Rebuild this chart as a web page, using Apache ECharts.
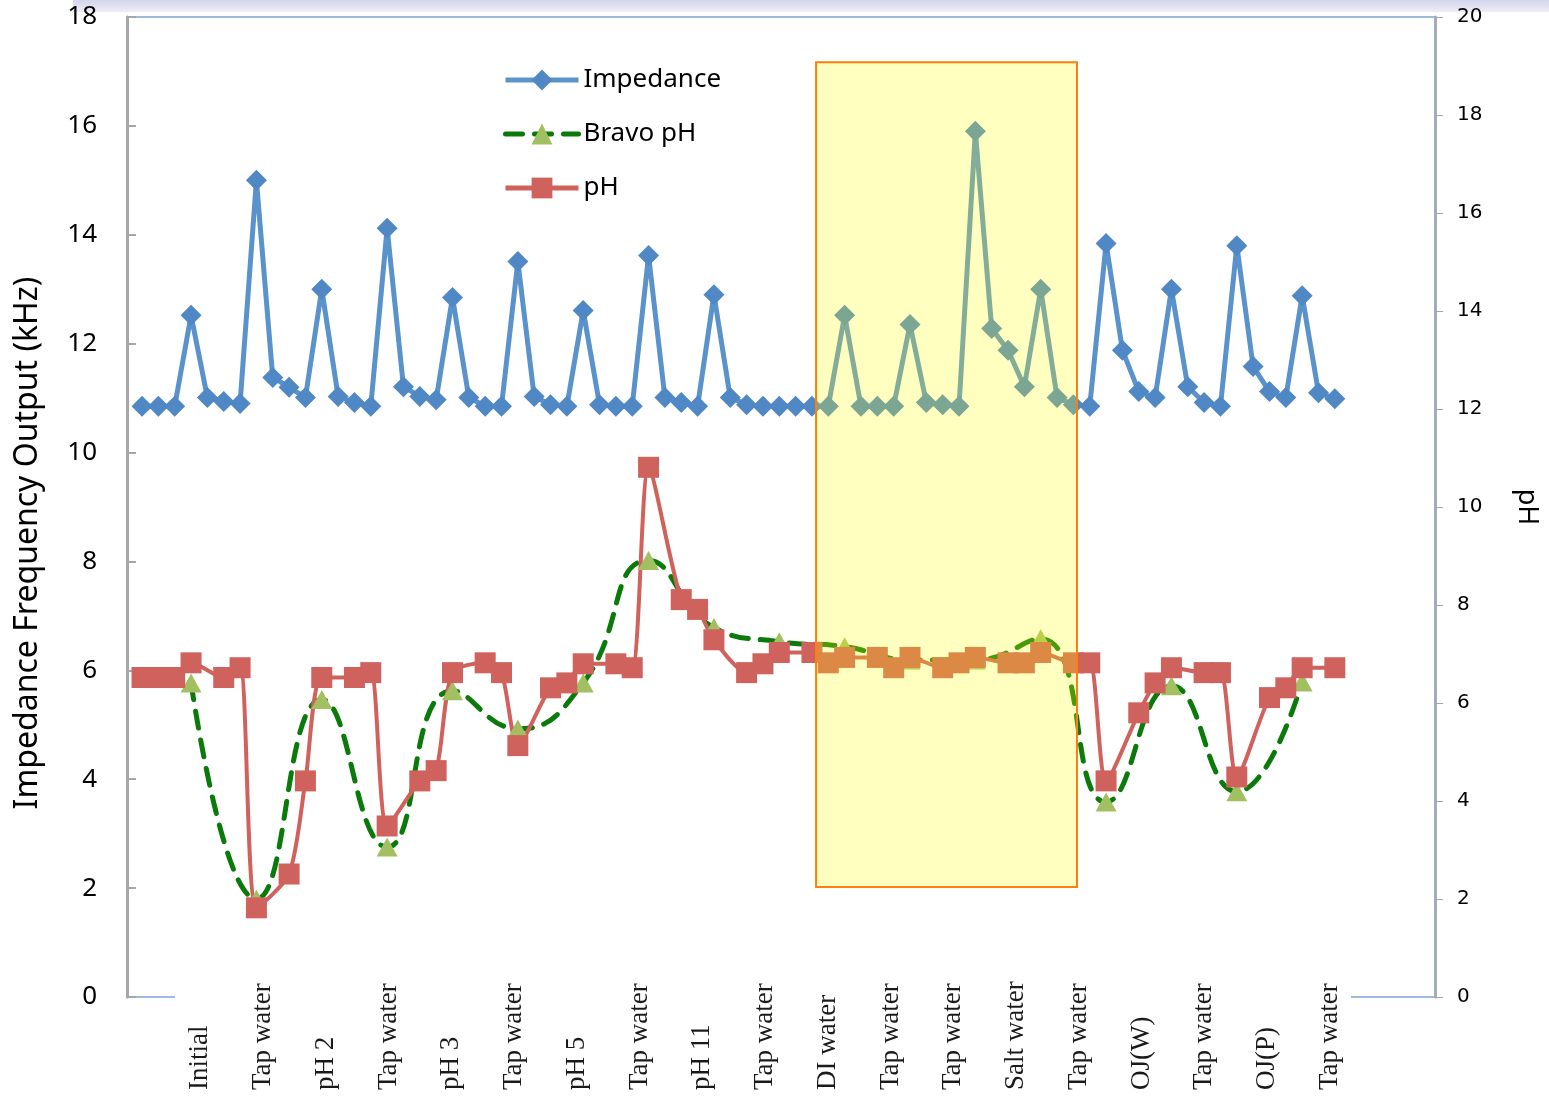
<!DOCTYPE html>
<html>
<head>
<meta charset="utf-8">
<script src="https://cdn.jsdelivr.net/npm/echarts@6/dist/echarts.min.js"></script>
<style>
  html, body { margin: 0; padding: 0; background: #fff; }
  #main { width: 1549px; height: 1099px; }
</style>
</head>
<body>
<div id="main"></div>
<script>
// sample labels shown under the axis
const stepLabels = ['Initial', 'Tap water', 'pH 2', 'Tap water', 'pH 3', 'Tap water', 'pH 5', 'Tap water',
  'pH 11', 'Tap water', 'DI water', 'Tap water', 'Tap water', 'Salt water', 'Tap water', 'OJ(W)',
  'Tap water', 'OJ(P)', 'Tap water'];

// impedance frequency output (kHz), one value per sample
const impedance = [
  10.85, 10.85, 10.85, 12.52, 11.01, 10.94, 10.90, 15.00, 11.38, 11.20,
  11.01, 13.00, 11.03, 10.92, 10.85, 14.12, 11.21, 11.03, 10.97, 12.85,
  11.01, 10.85, 10.85, 13.51, 11.03, 10.88, 10.85, 12.61, 10.88, 10.85,
  10.85, 13.62, 11.01, 10.92, 10.85, 12.90, 11.01, 10.88, 10.85, 10.85,
  10.85, 10.85, 10.85, 12.52, 10.85, 10.85, 10.85, 12.35, 10.92, 10.88,
  10.85, 15.90, 12.28, 11.88, 11.21, 13.00, 11.01, 10.88, 10.85, 13.84,
  11.88, 11.12, 11.01, 13.00, 11.21, 10.92, 10.85, 13.80, 11.58, 11.12,
  11.01, 12.88, 11.10, 10.99
];

// pH meter reading per sample (null = no reading)
const ph = [
  6.52, 6.52, 6.52, 6.82, null, 6.52, 6.72, 1.82, null, 2.51,
  4.41, 6.52, null, 6.52, 6.62, 3.49, null, 4.41, 4.62, 6.62,
  null, 6.82, 6.62, 5.13, null, 6.31, 6.41, 6.80, null, 6.80,
  6.72, 10.81, null, 8.11, 7.91, 7.29, null, 6.62, 6.80, 7.03,
  null, 7.03, 6.82, 6.93, null, 6.93, 6.72, 6.93, null, 6.72,
  6.82, 6.93, null, 6.82, 6.82, 7.03, null, 6.82, 6.82, 4.41,
  null, 5.80, 6.41, 6.72, null, 6.62, 6.62, 4.49, null, 6.11,
  6.31, 6.72, null, 6.72
];

// Bravo pH capsule, read on every 4th sample starting at sample 3
const bravoStart = 3;
const bravoStep = 4;
const bravoPh = [6.41, 2.0, 6.07, 3.06, 6.25, 5.47, 6.41, 8.91, 7.54, 7.25,
  7.15, 6.88, 6.88, 7.31, 3.98, 6.35, 4.19, 6.43];

// highlighted sample range (x) and level range (left axis)
const highlightX = [41.25, 57.22];
const highlightY = [2.02, 17.17];

const toPairs = arr => arr.map((v, i) => [i, v]).filter(p => p[1] !== null);
const bravoPairs = bravoPh.map((v, k) => [bravoStart + k * bravoStep, v]);

const chart = echarts.init(document.getElementById('main'));

chart.setOption({
  animation: false,
  backgroundColor: '#fff',
  textStyle: { fontFamily: 'Noto Sans' },
  graphic: [
    {
      type: 'rect', z: 0,
      shape: { x: 73, y: 0, width: 1476, height: 12 },
      style: {
        fill: new echarts.graphic.LinearGradient(0, 0, 0, 1, [
          { offset: 0, color: '#d4d4ec' }, { offset: 1, color: '#eeeef8' }
        ])
      }
    },
    {
      type: 'rect', z: 1,
      shape: { x: 175, y: 975, width: 1176, height: 124 },
      style: { fill: '#fff' }
    },
    {
      type: 'text', z: 5,
      x: 28, y: 543, rotation: Math.PI / 2,
      style: {
        text: 'Impedance Frequency Output (kHz)',
        fontFamily: 'Noto Sans', fontSize: 32, fill: '#000',
        align: 'center', verticalAlign: 'middle'
      }
    }
  ],
  legend: {
    orient: 'vertical',
    left: 498,
    top: 62,
    itemWidth: 73,
    itemHeight: 26,
    itemGap: 28,
    lineStyle: { width: 5 },
    textStyle: { fontSize: 26, color: '#000', fontFamily: 'Noto Sans' },
    data: ['Impedance', 'Bravo pH', 'pH']
  },
  grid: [
    { left: 127, right: 114, top: 17, bottom: 102, outerBoundsMode: 'none',
      show: true, borderColor: '#7ea7d4', borderWidth: 1.5 },
    { left: 169, right: 188, top: 17, bottom: 102, outerBoundsMode: 'none', show: false }
  ],
  xAxis: [
    {
      type: 'value', gridIndex: 0, min: -0.92, max: 79.13,
      show: false, splitLine: { show: false }
    },
    {
      type: 'category', gridIndex: 1, data: stepLabels, boundaryGap: true, z: 5,
      axisLine: { show: false }, axisTick: { show: false },
      axisLabel: {
        interval: 0, rotate: 90, align: 'left', margin: 93,
        fontFamily: 'Liberation Serif', fontSize: 27, color: '#1a1a1a'
      }
    }
  ],
  yAxis: [
    {
      type: 'value', gridIndex: 0, min: 0, max: 18, interval: 2,
      splitLine: { show: false },
      axisLine: { show: true, onZero: false, lineStyle: { color: '#a6a6a6', width: 3 } },
      axisTick: { show: true, inside: true, length: 9, lineStyle: { color: '#a6a6a6', width: 2 } },
      axisLabel: { fontSize: 26, color: '#000', margin: 30, fontFamily: 'Noto Sans' }
    },
    {
      type: 'value', gridIndex: 0, position: 'right', min: 0, max: 20, interval: 2,
      name: 'pH', nameLocation: 'middle', nameGap: 78, nameRotate: -90,
      nameTextStyle: { fontSize: 27, color: '#000', fontFamily: 'Noto Sans' },
      splitLine: { show: false },
      axisLine: { show: true, onZero: false, lineStyle: { color: '#a3adb8', width: 3 } },
      axisTick: { show: true, length: 8, lineStyle: { color: '#a6a6a6', width: 1 } },
      axisLabel: { fontSize: 20, color: '#000', margin: 22, fontFamily: 'DejaVu Sans' }
    },
    { type: 'value', gridIndex: 1, show: false }
  ],
  series: [
    {
      name: 'Impedance',
      type: 'line',
      xAxisIndex: 0, yAxisIndex: 0,
      data: toPairs(impedance),
      symbol: 'diamond', symbolSize: 21,
      lineStyle: { color: '#5a92cb', width: 5 },
      itemStyle: { color: '#4f88c4' },
      markArea: {
        silent: true, z: 10,
        itemStyle: { color: 'rgba(255,255,0,0.25)', borderColor: '#ff7f0e', borderWidth: 2 },
        data: [[
          { coord: [highlightX[0], highlightY[1]] },
          { coord: [highlightX[1], highlightY[0]] }
        ]]
      }
    },
    {
      name: 'Bravo pH',
      type: 'line',
      xAxisIndex: 0, yAxisIndex: 1,
      data: bravoPairs,
      smooth: 0.5,
      symbol: 'triangle', symbolSize: [21, 19],
      lineStyle: { color: '#0a7a0a', width: 5, type: [17, 12], cap: 'round' },
      itemStyle: { color: '#a2c062' }
    },
    {
      name: 'pH',
      type: 'line',
      xAxisIndex: 0, yAxisIndex: 1,
      data: toPairs(ph),
      smooth: 0.25,
      symbol: 'rect', symbolSize: 21,
      lineStyle: { color: '#d0615b', width: 4 },
      itemStyle: { color: '#cf625c' }
    }
  ]
});
</script>
</body>
</html>
